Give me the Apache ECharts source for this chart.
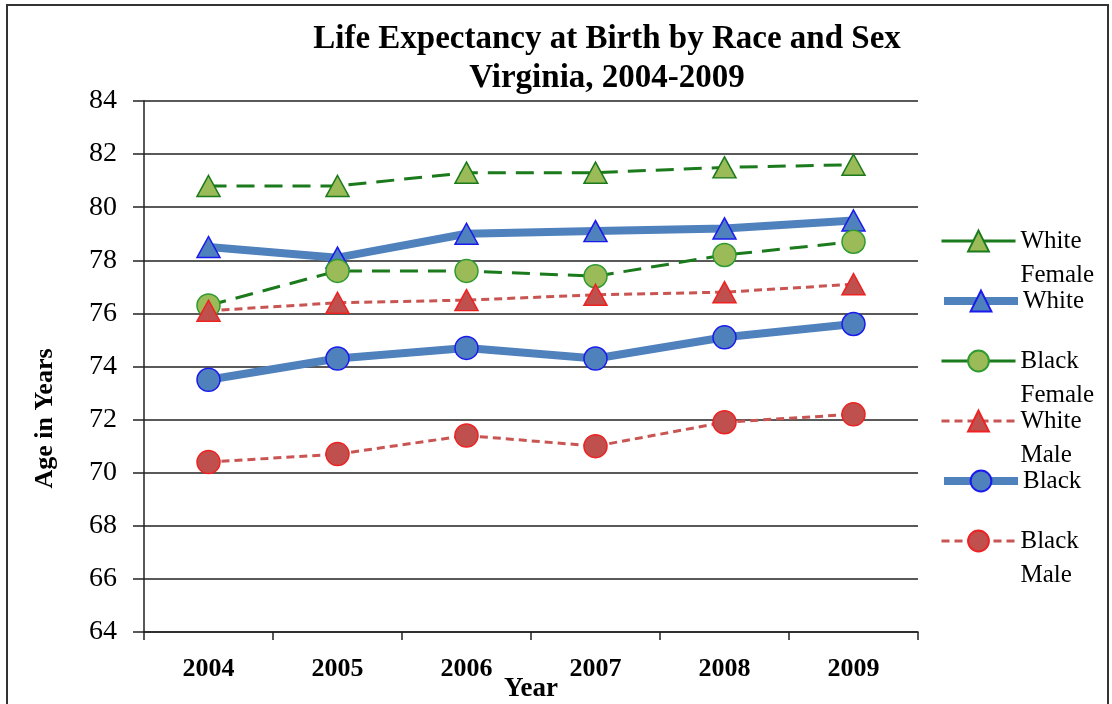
<!DOCTYPE html>
<html>
<head>
<meta charset="utf-8">
<title>Life Expectancy at Birth by Race and Sex</title>
<script src="https://cdn.jsdelivr.net/npm/echarts@6/dist/echarts.min.js"></script>
<style>
  html, body { margin: 0; padding: 0; background: #fff; }
  #main { width: 1112px; height: 704px; }
</style>
</head>
<body>
<div id="main"></div>
<script>
// data
var years = ['2004', '2005', '2006', '2007', '2008', '2009'];
var yTicks = [64, 66, 68, 70, 72, 74, 76, 78, 80, 82, 84];

var whiteFemale = [80.8, 80.8, 81.3, 81.3, 81.5, 81.6];
var whiteAll    = [78.5, 78.1, 79.0, 79.1, 79.2, 79.5];
var blackFemale = [76.3, 77.6, 77.6, 77.4, 78.2, 78.7];
var whiteMale   = [76.1, 76.4, 76.5, 76.7, 76.8, 77.1];
var blackAll    = [73.5, 74.3, 74.7, 74.3, 75.1, 75.6];
var blackMale   = [70.4, 70.7, 71.4, 71.0, 71.9, 72.2];

var names = ['White Female', 'White', 'Black Female', 'White Male', 'Black', 'Black Male'];

var serif = 'Liberation Serif, Times New Roman, serif';
var green = '#1b7a1b';
var greenFill = '#9bbb59';
var blue = '#4f81bd';
var blueEdge = '#1a1aee';
var red = '#c85552';
var redFill = '#c0504d';
var redEdge = '#ee2222';

var styles = [
    { symbol: 'triangle', line: green, width: 3, dash: [18, 10], legendW: 3, legendDash: 'solid', fill: greenFill, edge: green },
    { symbol: 'triangle', line: blue,  width: 8, dash: 'solid',  legendW: 8, legendDash: 'solid', fill: blue, edge: blueEdge },
    { symbol: 'circle',   line: green, width: 3, dash: [18, 10], legendW: 3, legendDash: 'solid', fill: greenFill, edge: '#2f9a2f' },
    { symbol: 'triangle', line: red,   width: 3, dash: [8, 5],   legendW: 3, legendDash: [8, 5],  fill: redFill, edge: redEdge },
    { symbol: 'circle',   line: blue,  width: 8, dash: 'solid',  legendW: 8, legendDash: 'solid', fill: blue, edge: blueEdge },
    { symbol: 'circle',   line: red,   width: 3, dash: [8, 5],   legendW: 3, legendDash: [8, 5],  fill: redFill, edge: redEdge }
];
var allData = [whiteFemale, whiteAll, blackFemale, whiteMale, blackAll, blackMale];

//折线
var series = names.map(function (n, i) {
    var s = styles[i];
    return {
        name: n,
        type: 'line',
        data: allData[i],
        symbol: s.symbol,
        symbolSize: s.symbol == 'triangle' ? [23, 21] : 23,
        lineStyle: { color: s.line, width: s.width, type: s.dash },
        itemStyle: { color: s.fill, borderColor: s.edge, borderWidth: 1.5 },
        emphasis: { disabled: true },
        animation: false
    };
});

// legend: one per item so each can sit where the picture has it
var legendIconY = [241, 301, 361, 421, 481, 541];
var legends = names.map(function (n, i) {
    var twoLine = n.indexOf(' ') > 0;
    return {
        data: [n],
        orient: 'vertical',
        left: 940,
        top: legendIconY[i] - (twoLine ? 51 : 17),
        padding: 0,
        itemWidth: 74,
        itemHeight: 26,
        itemGap: 0,
        selectedMode: false,
        lineStyle: { width: styles[i].legendW, type: styles[i].legendDash },
        // blank first line so the first word sits level with the icon
        formatter: function (name) {
            return name.indexOf(' ') > 0 ? ' \n' + name.replace(' ', '\n') : name;
        },
        textStyle: {
            fontFamily: serif,
            fontSize: 25,
            color: '#000',
            lineHeight: 34
        }
    };
});

var chart = echarts.init(document.getElementById('main'));
chart.setOption({
    backgroundColor: '#fff',
    title: {
        text: 'Life Expectancy at Birth by Race and Sex\nVirginia, 2004-2009',
        left: 602,
        top: 15,
        textAlign: 'center',
        textStyle: {
            fontFamily: serif,
            fontWeight: 'bold',
            fontSize: 33,
            lineHeight: 39,
            color: '#000'
        }
    },
    legend: legends,
    grid: { left: 144, right: 194, top: 101, bottom: 72, containLabel: false, outerBoundsMode: 'none' },
    xAxis: {
        type: 'category',
        data: years,
        boundaryGap: true,
        name: 'Year',
        nameLocation: 'middle',
        nameGap: 44,
        nameMoveOverlap: false,
        nameTextStyle: { fontFamily: serif, fontWeight: 'bold', fontSize: 27, color: '#000' },
        axisLine: { lineStyle: { color: '#222', width: 1.5 } },
        axisTick: { show: true, alignWithLabel: false, length: 8, lineStyle: { color: '#222', width: 1.5 } },
        axisLabel: { margin: 24, fontFamily: serif, fontWeight: 'bold', fontSize: 26, color: '#000' }
    },
    yAxis: {
        type: 'value',
        min: yTicks[0],
        max: yTicks[yTicks.length - 1],
        interval: 2,
        name: 'Age in Years',
        nameLocation: 'middle',
        nameRotate: 90,
        nameGap: 86,
        nameMoveOverlap: false,
        nameTextStyle: { fontFamily: serif, fontWeight: 'bold', fontSize: 26, color: '#000', padding: [0, 104, 0, 0] },
        axisLine: { show: true, lineStyle: { color: '#222', width: 1.5 } },
        axisTick: { show: true, length: 11, lineStyle: { color: '#222', width: 1.5 } },
        axisLabel: { margin: 27, fontFamily: serif, fontSize: 28, color: '#000' },
        splitLine: { show: true, lineStyle: { color: '#222', width: 1.5 } }
    },
    graphic: [{
        type: 'rect',
        shape: { x: 7, y: 5, width: 1101, height: 720 },
        style: { fill: null, stroke: '#333', lineWidth: 2 },
        silent: true
    }],
    series: series
});
</script>
</body>
</html>
